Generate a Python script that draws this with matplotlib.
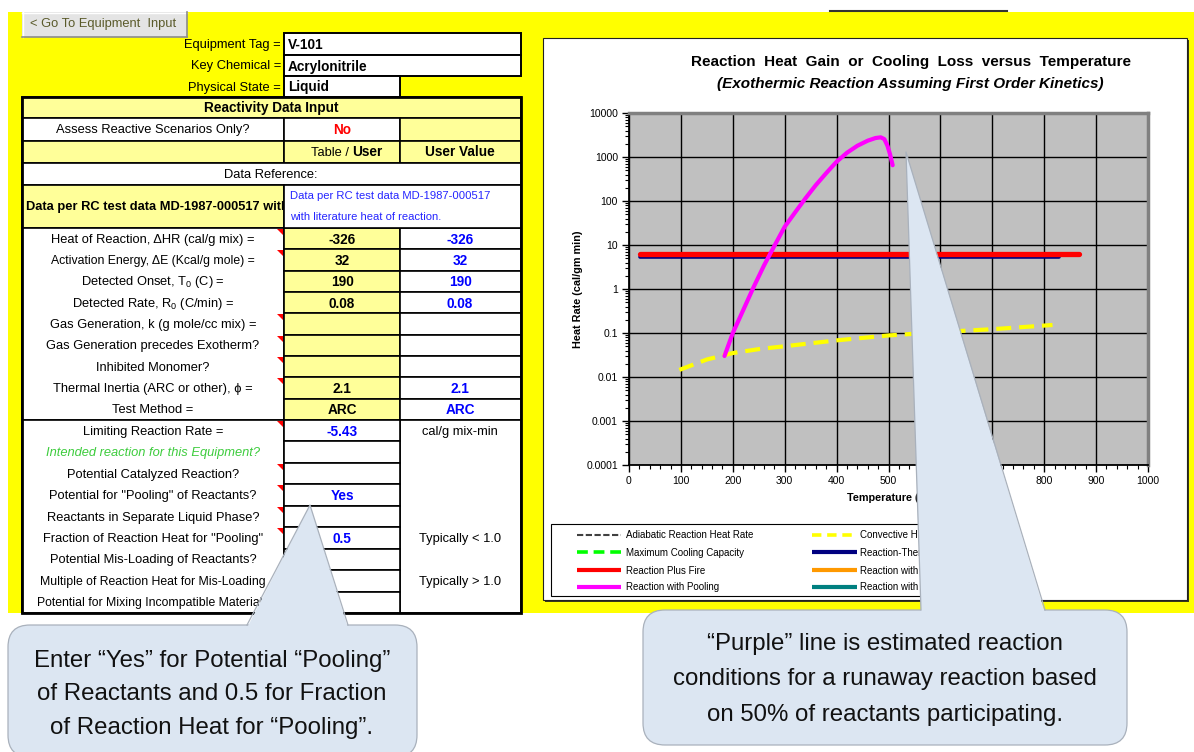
import matplotlib
matplotlib.use("Agg")
import matplotlib.pyplot as plt
from matplotlib.patches import Rectangle, Polygon, FancyBboxPatch
from matplotlib.ticker import FixedLocator, NullFormatter, LogLocator, MultipleLocator

plt.rcParams['font.family'] = ['Liberation Sans', 'DejaVu Sans']
plt.rcParams['mathtext.fontset'] = 'custom'
plt.rcParams['mathtext.rm'] = 'Liberation Sans'
plt.rcParams['mathtext.it'] = 'Liberation Sans:italic'
plt.rcParams['mathtext.bf'] = 'Liberation Sans:bold'

# ---- sheet data ----
equip_labels = ["Equipment Tag =", "Key Chemical =", "Physical State ="]
equip_values = ["V-101", "Acrylonitrile", "Liquid"]

input_labels = ["Heat of Reaction, \u0394HR (cal/g mix) =",
                "Activation Energy, \u0394E (Kcal/g mole) =",
                "Detected Onset, T$_0$ (C) =",
                "Detected Rate, R$_0$ (C/min) =",
                "Gas Generation, k (g mole/cc mix) =",
                "Gas Generation precedes Exotherm?",
                "Inhibited Monomer?",
                "Thermal Inertia (ARC or other), \u03d5 =",
                "Test Method ="]
table_values = ["-326", "32", "190", "0.08", "", "", "", "2.1", "ARC"]
user_values = ["-326", "32", "190", "0.08", "", "", "", "2.1", "ARC"]
input_flags = [1, 1, 0, 0, 1, 1, 1, 1, 0]

scenario_labels = ["Limiting Reaction Rate =",
                   "Intended reaction for this Equipment?",
                   "Potential Catalyzed Reaction?",
                   "Potential for \"Pooling\" of Reactants?",
                   "Reactants in Separate Liquid Phase?",
                   "Fraction of Reaction Heat for \"Pooling\"",
                   "Potential Mis-Loading of Reactants?",
                   "Multiple of Reaction Heat for Mis-Loading",
                   "Potential for Mixing Incompatible Materials"]
scenario_values = ["-5.43", "", "", "Yes", "", "0.5", "", "", ""]
scenario_notes = ["cal/g mix-min", "", "", "", "", "Typically < 1.0", "", "Typically > 1.0", ""]
scenario_flags = [1, 0, 1, 1, 1, 1, 0, 0, 0]

# ---- chart series ----
pool_temp = [184, 200, 220, 240, 260, 280, 300, 320, 340, 360, 380, 400, 420,
             440, 460, 475, 485, 492, 498, 503, 508]
pool_rate = [0.03, 0.1, 0.33, 1.1, 3.4, 9.5, 26, 55, 115, 230, 430, 780, 1250,
             1800, 2350, 2700, 2800, 2550, 1800, 1150, 650]
conv_temp = [97, 150, 200, 250, 300, 400, 500, 600, 700, 816]
conv_rate = [0.0145, 0.025, 0.035, 0.043, 0.05, 0.068, 0.088, 0.105, 0.122, 0.152]
fire_temp = [22, 868]
fire_rate = [6.2, 6.2]
runaway_temp = [22, 828]
runaway_rate = [5.4, 5.4]

x_ticks = [0, 100, 200, 300, 400, 500, 600, 700, 800, 900, 1000]
y_ticks = [1e-4, 1e-3, 1e-2, 1e-1, 1, 10, 100, 1000, 10000]
y_tick_labels = ["0.0001", "0.001", "0.01", "0.1", "1", "10", "100", "1000", "10000"]

legend_labels = ["Adiabatic Reaction Heat Rate", "Maximum Cooling Capacity",
                 "Reaction Plus Fire", "Reaction with Pooling",
                 "Convective Heat Loss", "Reaction-Thermal Runaway",
                 "Reaction with Catalyst", "Reaction with Mis-Loading"]

note_left = ["Enter \u201cYes\u201d for Potential \u201cPooling\u201d",
             "of Reactants and 0.5 for Fraction",
             "of Reaction Heat for \u201cPooling\u201d."]
note_right = ["\u201cPurple\u201d line is estimated reaction",
              "conditions for a runaway reaction based",
              "on 50% of reactants participating."]

LT_YEL = '#FFFF99'
BLUE = '#0000FF'
FS = 9.3    # regular sheet text
FSB = 9.8   # bold sheet text

fig = plt.figure(figsize=(11.94, 7.52), dpi=100)
bg = fig.add_axes([0, 0, 1, 1])
bg.set_xlim(0, 1194)
bg.set_ylim(752, 0)
bg.axis('off')


def box(x0, y0, x1, y1, fc='white', ec='black', lw=1.2, ax=None, z=1):
    ax = ax or bg
    r = Rectangle((x0, y0), x1 - x0, y1 - y0, facecolor=fc, edgecolor=ec,
                  linewidth=lw, zorder=z)
    ax.add_patch(r)
    return r


def flag(y):
    bg.add_patch(Polygon([(277, y + 1), (283, y + 1), (283, y + 7)],
                         closed=True, facecolor='red', edgecolor='none', zorder=5))


# background
box(8, 12, 1194, 613, fc='#FFFF00', ec='none', z=0)
bg.plot([830, 1007], [11, 11], color='#333333', lw=1.5)

# button
box(22, 12, 187, 37, fc='#E4E4E4', ec='none')
bg.plot([22, 187], [12.5, 12.5], color='white', lw=1)
bg.plot([22.5, 22.5], [12, 37], color='white', lw=1)
bg.plot([22, 187], [36.5, 36.5], color='#8C8C8C', lw=1.2)
bg.plot([186.5, 186.5], [12, 37], color='#8C8C8C', lw=1.2)
bg.text(30, 24.5, "< Go To Equipment  Input", fontsize=9.3, color='#5A5A2A',
        ha='left', va='center')

# equipment block
eq_rows = [(33, 55, 521), (55, 76, 521), (76, 97, 400)]
for (y0, y1, xr), lab, val in zip(eq_rows, equip_labels, equip_values):
    box(284, y0, xr, y1, lw=1.4)
    bg.text(281, (y0 + y1) / 2 + 1, lab, fontsize=FS, ha='right', va='center')
    bg.text(288, (y0 + y1) / 2 + 1, val, fontsize=FSB, weight='bold', ha='left', va='center')

# header rows of the table
box(22, 97, 521, 118, fc=LT_YEL)
bg.text(271, 108, "Reactivity Data Input", fontsize=FSB, weight='bold', ha='center', va='center')
box(22, 118, 284, 141)
box(284, 118, 400, 141)
box(400, 118, 521, 141, fc=LT_YEL)
bg.text(153, 130, "Assess Reactive Scenarios Only?", fontsize=FS, ha='center', va='center')
bg.text(342, 130, "No", fontsize=FSB, weight='bold', color='#FF0000', ha='center', va='center')
box(22, 141, 284, 163, fc=LT_YEL)
box(284, 141, 400, 163, fc=LT_YEL)
box(400, 141, 521, 163, fc=LT_YEL)
bg.text(349, 152.5, "Table /", fontsize=FS, ha='right', va='center')
bg.text(352, 152.5, "User", fontsize=FSB, weight='bold', ha='left', va='center')
bg.text(460, 152.5, "User Value", fontsize=FSB, weight='bold', ha='center', va='center')
box(22, 163, 521, 185)
bg.text(271, 174.5, "Data Reference:", fontsize=FS, ha='center', va='center')
box(22, 185, 284, 228, fc=LT_YEL)
bg.text(26, 207, "Data per RC test data MD-1987-000517 with literature heat of reaction.",
        fontsize=FS, weight='bold', ha='left', va='center', zorder=1.5)
box(284, 185, 521, 228, z=2)
bg.text(290, 196, "Data per RC test data MD-1987-000517", fontsize=8.1, color='#2525FF',
        ha='left', va='center')
bg.text(290, 217, "with literature heat of reaction.", fontsize=8.1, color='#2525FF',
        ha='left', va='center')

# input block
box(22, 228, 284, 420)
rh = (420 - 228) / len(input_labels)
for i, lab in enumerate(input_labels):
    y0 = 228 + i * rh
    yc = y0 + rh / 2 + 1
    box(284, y0, 400, y0 + rh, fc=LT_YEL)
    box(400, y0, 521, y0 + rh)
    fs = 8.8 if i == 1 else FS
    bg.text(153, yc, lab, fontsize=fs, ha='center', va='center')
    bg.text(342, yc, table_values[i], fontsize=FSB, weight='bold', ha='center', va='center')
    bg.text(460, yc, user_values[i], fontsize=FSB, weight='bold', color=BLUE, ha='center', va='center')
    if input_flags[i]:
        flag(y0)

# scenario block
box(22, 420, 284, 613)
box(400, 420, 521, 613)
rh = (613 - 420) / len(scenario_labels)
for i, lab in enumerate(scenario_labels):
    y0 = 420 + i * rh
    yc = y0 + rh / 2 + 1
    box(284, y0, 400, y0 + rh)
    if i == 1:
        bg.text(153, yc, lab, fontsize=FS, style='italic', color='#3DCC3D', ha='center', va='center')
    else:
        fs = 8.8 if i >= 7 else FS
        bg.text(153, yc, lab, fontsize=fs, ha='center', va='center')
    bg.text(342, yc, scenario_values[i], fontsize=FSB, weight='bold', color=BLUE, ha='center', va='center')
    bg.text(460, yc, scenario_notes[i], fontsize=FS, ha='center', va='center')
    if scenario_flags[i]:
        flag(y0)

# thick outer frame
box(22, 97, 521, 613, fc='none', lw=2, z=6)

# chart container
box(545, 40, 1189, 602, fc='#3A3A1A', ec='none')
box(543, 38, 1187, 600, fc='white', ec='#222222', lw=0.8)
bg.text(911, 62, "Reaction  Heat  Gain  or  Cooling  Loss  versus  Temperature",
        fontsize=11, weight='bold', ha='center', va='center')
bg.text(910, 84, "(Exothermic Reaction Assuming First Order Kinetics)",
        fontsize=11, weight='bold', style='italic', ha='center', va='center')

# legend (drawn as a block like the sheet shows it)
box(551, 524, 1000, 596, lw=0.8)
legend_styles = [('#404040', (0, (3, 1.2)), 1.5), ('#00FF00', (0, (3, 1.6)), 2.6),
                 ('#FF0000', '-', 3), ('#FF00FF', '-', 3),
                 ('#FFFF00', (0, (2.6, 1.6)), 2.6), ('#000080', '-', 3),
                 ('#FF9900', '-', 3), ('#008080', '-', 3)]
leg_rows = [535, 552, 570, 587]
for k, (lab, (c, ls, lw)) in enumerate(zip(legend_labels, legend_styles)):
    col, row = divmod(k, 4)
    x0, x1, xt = (577, 621, 626) if col == 0 else (812, 857, 860)
    bg.plot([x0, x1], [leg_rows[row], leg_rows[row]], color=c, linestyle=ls, lw=lw,
            solid_capstyle='butt')
    bg.text(xt, leg_rows[row] + 0.5, lab, fontsize=7, ha='left', va='center')

# ---- the chart ----
ax = fig.add_axes([629 / 1194, 1 - 465 / 752, (1148 - 629) / 1194, (465 - 113) / 752], zorder=2)
ax.set_facecolor('#C0C0C0')
ax.set_yscale('log')
ax.set_xlim(0, 1000)
ax.set_ylim(1e-4, 1e4)

ax.plot(runaway_temp, runaway_rate, color='#000080', lw=2.6, solid_capstyle='round', zorder=3)
ax.plot(fire_temp, fire_rate, color='#FF0000', lw=3.8, solid_capstyle='round', zorder=4)
ax.plot(conv_temp, conv_rate, color='#FFFF00', lw=3, linestyle=(0, (3.6, 1.9)), zorder=4)
ax.plot(pool_temp, pool_rate, color='#FF00FF', lw=3, solid_capstyle='round', zorder=5)

ax.xaxis.set_major_locator(FixedLocator(x_ticks))
ax.xaxis.set_minor_locator(MultipleLocator(20))
ax.set_xticklabels([str(v) for v in x_ticks])
ax.yaxis.set_major_locator(FixedLocator(y_ticks))
ax.yaxis.set_minor_locator(LogLocator(base=10, subs=range(2, 10), numticks=20))
ax.yaxis.set_minor_formatter(NullFormatter())
ax.set_yticklabels(y_tick_labels)
ax.grid(True, which='major', color='black', lw=1)
ax.tick_params(which='major', direction='out', length=5, width=1, labelsize=7.5, pad=3)
ax.tick_params(which='minor', direction='out', length=3, width=0.8)
for s in ['left', 'bottom']:
    ax.spines[s].set_color('black')
    ax.spines[s].set_linewidth(1.3)
for s in ['top', 'right']:
    ax.spines[s].set_color('#808080')
    ax.spines[s].set_linewidth(2.5)
ax.set_xlabel("Temperature (C)", fontsize=7.8, weight='bold', labelpad=5)
ax.set_ylabel("Heat Rate (cal/gm min)", fontsize=7.8, weight='bold', labelpad=2)

# ---- callouts ----
top = fig.add_axes([0, 0, 1, 1], zorder=5)
top.set_xlim(0, 1194)
top.set_ylim(752, 0)
top.axis('off')

FILL = '#DCE6F2'
EDGE = '#A9B1BC'


def callout(x0, y0, w, h, tip, base_l, base_r):
    top.add_patch(FancyBboxPatch((x0, y0), w, h, boxstyle='round,pad=0,rounding_size=22',
                                 facecolor=FILL, edgecolor=EDGE, linewidth=0.9))
    top.add_patch(Polygon([(base_l, y0 + 3), tip, (base_r, y0 + 3)], closed=True,
                          facecolor=FILL, edgecolor='none'))
    top.plot([base_l, tip[0], base_r], [y0, tip[1], y0], color=EDGE, lw=0.9)


callout(8, 625, 409, 132, (310, 505), 247, 348)
for i, line in enumerate(note_left):
    top.text(212, 661 + i * 33.5, line, fontsize=17.3, color='#111111', ha='center', va='center')

callout(643, 610, 484, 135, (906, 152), 921, 1045)
for i, line in enumerate(note_right):
    top.text(885, 644 + i * 35.5, line, fontsize=17.3, color='#111111', ha='center', va='center')

fig.savefig("out.png", dpi=100)
